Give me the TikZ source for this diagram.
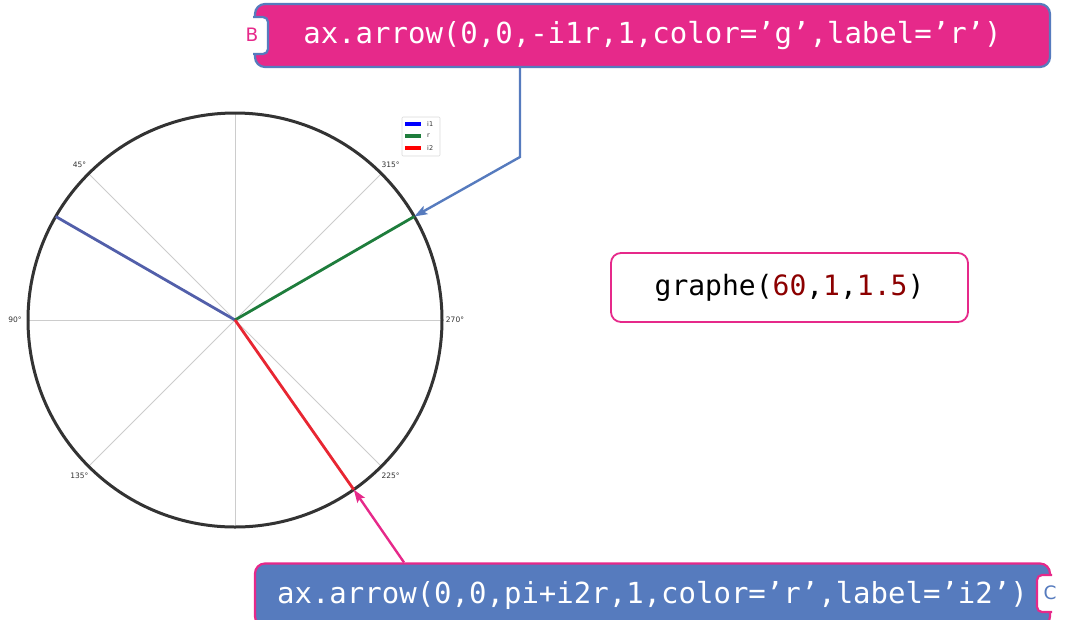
\documentclass[tikz,border=0pt]{standalone}
\usepackage{fontspec}
\setmonofont{DejaVu Sans Mono}
\newfontfamily\axisfont{DejaVu Sans}
\usetikzlibrary{arrows.meta}
\definecolor{tagpink}{RGB}{230,41,138}
\definecolor{tagblue}{RGB}{86,123,190}
\definecolor{numred}{RGB}{140,0,0}
\definecolor{phasorblue}{RGB}{82,95,170}
\definecolor{phasorgreen}{RGB}{30,125,60}
\definecolor{phasorred}{RGB}{232,38,50}
\definecolor{rim}{RGB}{51,51,51}

\begin{document}
\begin{tikzpicture}[
    x=1pt, y=-1pt,
    every node/.style={inner sep=0pt},
    codebox/.style={rounded corners=10pt, line width=2.2pt, minimum width=795pt,
        minimum height=63pt, font=\fontsize{29}{30}\ttfamily, text=white},
    notch/.style={fill=white, line width=2.2pt, rounded corners=5pt},
    tagletter/.style={font=\axisfont\fontsize{18.5}{18}\selectfont},
    gridline/.style={draw=black!20, line width=0.9pt},
    phasor/.style={line width=2.8pt},
    ticklabel/.style={font=\axisfont\fontsize{7.5}{8}\selectfont, text=rim},
    pointer/.style={-{Stealth[length=13pt, width=9pt, inset=2.5pt]}, line width=2.4pt},
]
\useasboundingbox (0,0) rectangle (1065,619);

% polar axes
\coordinate (O) at (235,320);
\foreach \a in {0,45,90,135}
    \draw[gridline] ([shift={(\a:207)}]O) -- ([shift={(\a+180:207)}]O);
\draw[rim, line width=3pt] (O) circle[radius=207pt];
\foreach \a/\t in {-135/45, 180/90, 135/135, 45/225, 0/270, -45/315}
    \node[ticklabel] (deg\t) at ([shift={(\a:220)}]O) {\t\textdegree};

% phasors
\coordinate (btip) at ([shift={(-150:207)}]O);
\coordinate (gtip) at ([shift={(-30:207)}]O);
\coordinate (rtip) at ([shift={(55:207)}]O);
\draw[phasor, phasorblue] (O) -- (btip);
\draw[phasor, phasorgreen] (O) -- (gtip);
\draw[phasor, phasorred] (O) -- (rtip);

% legend
\node[draw=black!15, fill=white, rounded corners=1pt, line width=0.6pt,
      minimum width=38pt, minimum height=39pt] (legend) at (421,136.5) {};
\foreach \c/\t/\y in {blue/i1/124, phasorgreen/r/136, red/i2/148} {
    \draw[\c, line width=4pt] (405,\y) -- (421,\y);
    \node[ticklabel, font=\axisfont\fontsize{6.5}{7}\selectfont, anchor=west]
        (leg\t) at (427,\y) {\t};
}

% call box
\node[draw=tagpink, line width=1.8pt, rounded corners=10pt, fill=white,
      minimum width=357pt, minimum height=69pt,
      font=\fontsize{28}{30}\ttfamily] (call) at (789.5,287.5)
    {graphe(\textcolor{numred}{60},\textcolor{numred}{1},\textcolor{numred}{1.5})};

% code boxes with tags
\node[codebox, fill=tagpink, draw=tagblue] (top) at (652.5,35.5)
    {ax.arrow(0,0,-i1r,1,color=’g’,label=’r’)};
\draw[notch, draw=tagblue] (253,17) -- (268,17) -- (268,54) -- (253,54);
\node[tagletter, text=tagpink] (tagB) at (252,35) {B};

\node[codebox, fill=tagblue, draw=tagpink] (bot) at (652.5,595)
    {ax.arrow(0,0,pi+i2r,1,color=’r’,label=’i2’)};
\draw[notch, draw=tagpink] (1052,575) -- (1037,575) -- (1037,612) -- (1052,612);
\node[tagletter, text=tagblue] (tagC) at (1050,593) {C};

% pointers
\coordinate (bend) at (520,157);
\coordinate (rfoot) at (404,0);
\draw[pointer, tagblue] (top.south -| bend) -- (bend) -- (gtip);
\draw[pointer, tagpink] (bot.north -| rfoot) -- (rtip);

\end{tikzpicture}
\end{document}
